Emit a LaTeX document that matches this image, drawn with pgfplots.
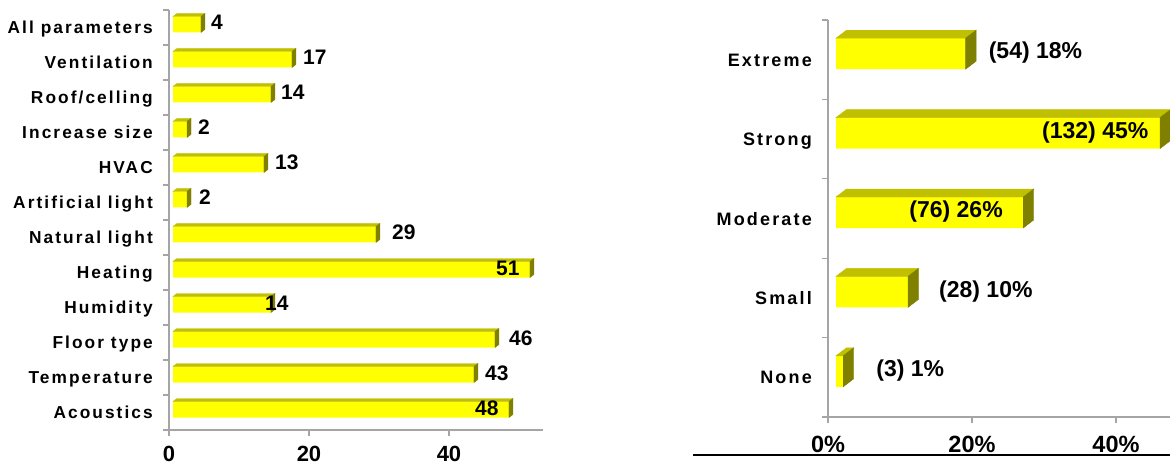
\documentclass[border=0pt]{standalone}
\usepackage{fontspec}
\setmainfont{Liberation Sans}
\newfontfamily\spacedsans[LetterSpace=12]{Liberation Sans}
\usepackage{pgfplots}
\pgfplotsset{compat=1.18}
\usepackage{pgfplotstable}

\definecolor{barfront}{RGB}{255,255,0}
\definecolor{bartop}{RGB}{192,192,0}
\definecolor{barside}{RGB}{128,128,0}
\definecolor{axisgray}{RGB}{165,165,165}

% survey counts per improvement area (bottom to top)
\pgfplotstableread{
c v lx
0 48 -34
1 43 11
2 46 14
3 14 -6
4 51 -34
5 29 16
6 2 12
7 13 11
8 2 11
9 14 10
10 17 11
11 4 10
}\areadata

% perceived effect: percentage, count, label offset (None to Extreme)
\pgfplotstableread{
c v n lx
0 1 3 33
1 10 28 31
2 26 76 -114
3 45 132 -118
4 18 54 23
}\effectdata

\pgfdeclareplotmark{blank}{}

% top and side faces of a 3D bar, drawn at the bar's end point
% #1 pt per unit, #2 front offset, #3 depth x, #4 depth y, #5 front height, #6 front lift
\pgfplotsset{
  bar faces/.style n args={6}{
    scatter, only marks, mark=blank, point meta=x,
    visualization depends on={\thisrow{v} \as \barval},
    scatter/@pre marker code/.code={%
      \pgfmathsetmacro\xa{#2-\barval*#1}%
      \pgfmathsetmacro\xb{#2}%
      \pgfmathsetmacro\xc{#2+#3}%
      \pgfmathsetmacro\xd{#2-\barval*#1+#3}%
      \pgfmathsetmacro\yt{#6+#5/2}%
      \pgfmathsetmacro\yb{#6-#5/2}%
      \pgfmathsetmacro\ytt{#6+#5/2+#4}%
      \pgfmathsetmacro\ybt{#6-#5/2+#4}%
      \fill[bartop] (\xa pt,\yt pt) -- (\xb pt,\yt pt) -- (\xc pt,\ytt pt) -- (\xd pt,\ytt pt) -- cycle;
      \fill[barside] (\xb pt,\yb pt) -- (\xc pt,\ybt pt) -- (\xc pt,\ytt pt) -- (\xb pt,\yt pt) -- cycle;
    },
    scatter/@post marker code/.code={},
  },
  survey axis/.style={
    scale only axis, anchor=south west, clip=false,
    axis lines=left, axis line style={axisgray, line width=1.3pt, -},
    tick style={axisgray, line width=1.3pt},
    tick align=outside, major tick length=6pt, minor tick length=6pt,
    every major y tick/.append style={draw=none},
    xmin=0,
    /pgf/number format/assume math mode=true,
    yticklabel style={font=\fontsize{17.3}{17.3}\selectfont\spacedsans\bfseries,
      inner sep=0pt, text height=12.3pt, text depth=0pt, anchor=east, xshift=-10pt},
  },
}

\begin{document}
\begin{tikzpicture}[x=1pt,y=1pt]
\path[use as bounding box] (0,0) rectangle (1170,464);

% improvement areas
\begin{axis}[survey axis,
  at={(169pt,34pt)}, width=374pt, height=420pt,
  xmax=53.43, ymin=-0.5, ymax=11.5,
  xtick={0,20,40},
  ytick={0,...,11},
  yticklabels={Acoustics, Temperature, Floor type, Humidity, Heating, Natural light,
    Artificial light, HVAC, Increase size, Roof/celling, Ventilation, All parameters},
  minor ytick={-0.5,0.5,...,11.5},
  xticklabel style={font=\fontsize{22}{22}\selectfont\bfseries, inner sep=0pt,
    text height=15.8pt, text depth=0pt, anchor=north, yshift=-9pt},
]
\addplot[xbar, bar width=16pt, fill=barfront, draw=none, xshift=4pt, yshift=3pt]
  table[x=v, y=c] {\areadata};
\addplot[bar faces={7}{4}{4}{3}{16}{3}] table[x=v, y=c] {\areadata};
\addplot[only marks, mark=blank, point meta=x,
  visualization depends on={\thisrow{lx} \as \lx},
  nodes near coords,
  every node near coord/.append style={anchor=west, inner sep=0pt,
    font=\fontsize{21}{21}\selectfont\bfseries, text height=15pt, text depth=0pt,
    xshift={(4+\lx)*1pt}, yshift=5pt},
] table[x=v, y=c] {\areadata};
\end{axis}

% perceived effect
\begin{axis}[survey axis,
  at={(828pt,47pt)}, width=342pt, height=397pt,
  xmax=47.5, ymin=-0.5, ymax=4.5,
  xtick={0,20,40},
  xticklabel={\pgfmathprintnumber{\tick}\%},
  ytick={0,...,4},
  yticklabels={None, Small, Moderate, Strong, Extreme},
  minor ytick={-0.5,0.5,...,4.5},
  yticklabel style={font=\fontsize{18}{18}\selectfont\spacedsans\bfseries, text height=13pt},
  xticklabel style={font=\fontsize{23.5}{23.5}\selectfont\bfseries, inner sep=0pt,
    text height=16.8pt, text depth=0pt, anchor=north, yshift=-12pt},
]
\addplot[xbar, bar width=31pt, fill=barfront, draw=none, xshift=8pt, yshift=6pt]
  table[x=v, y=c] {\effectdata};
\addplot[bar faces={7.2}{8}{10.5}{8}{31}{6}] table[x=v, y=c] {\effectdata};
\addplot[only marks, mark=blank, point meta=x,
  visualization depends on={\thisrow{lx} \as \lx},
  visualization depends on={\thisrow{n} \as \cnt},
  nodes near coords={(\pgfmathprintnumber[fixed, precision=0]{\cnt})~\pgfmathprintnumber{\pgfplotspointmeta}\%},
  every node near coord/.append style={anchor=west, inner sep=0pt,
    font=\fontsize{23}{23}\selectfont\bfseries, text height=16.5pt, text depth=0pt,
    xshift={(8+\lx)*1pt}, yshift=9pt},
] table[x=v, y=c] {\effectdata};
\end{axis}

% rule under the right panel
\draw[black, line width=1.3pt] (693,9) -- (1170,9);
\end{tikzpicture}
\end{document}
